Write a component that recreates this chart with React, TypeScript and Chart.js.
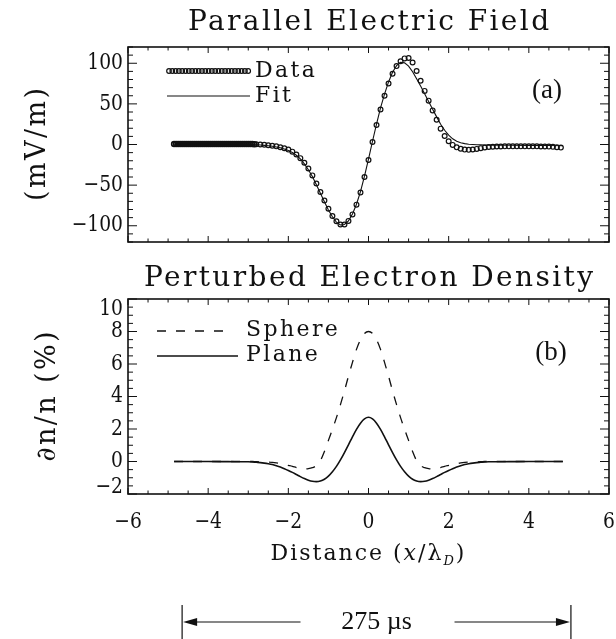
import React, { useEffect, useRef } from "react";
import { Chart, registerables } from "chart.js";

Chart.register(...registerables);

// ---------------- data: panel (a) Parallel Electric Field ----------------
const dataDenseX = [
  -4.85, -4.8, -4.75, -4.7, -4.65, -4.6, -4.55, -4.5, -4.45, -4.4, -4.35, -4.3, -4.25, -4.2,
  -4.15, -4.1, -4.05, -4.0, -3.95, -3.9, -3.85, -3.8, -3.75, -3.7, -3.65, -3.6, -3.55, -3.5,
  -3.45, -3.4, -3.35, -3.3, -3.25, -3.2, -3.15, -3.1, -3.05, -3.0, -2.95, -2.9, -2.85,
];
const dataDenseY = [
  0.6, 0.6, 0.6, 0.6, 0.6, 0.6, 0.6, 0.6, 0.6, 0.6, 0.6, 0.6, 0.6, 0.6,
  0.6, 0.6, 0.6, 0.6, 0.6, 0.6, 0.6, 0.6, 0.6, 0.6, 0.6, 0.6, 0.6, 0.6,
  0.6, 0.6, 0.6, 0.6, 0.6, 0.6, 0.6, 0.6, 0.6, 0.6, 0.55, 0.5, 0.4,
];
const dataX = [
  -2.8, -2.7, -2.6, -2.5, -2.4, -2.3, -2.2, -2.1, -2.0, -1.9, -1.8, -1.7, -1.6, -1.5, -1.4,
  -1.3, -1.2, -1.1, -1.0, -0.9, -0.8, -0.7, -0.6, -0.5, -0.4, -0.3, -0.2, -0.1, 0.0, 0.1,
  0.2, 0.3, 0.4, 0.5, 0.6, 0.7, 0.8, 0.9, 1.0, 1.1, 1.2, 1.3, 1.4, 1.5, 1.6, 1.7, 1.8,
  1.9, 2.0, 2.1, 2.2, 2.3, 2.4, 2.5, 2.6, 2.7, 2.8, 2.9, 3.0, 3.1, 3.2, 3.3, 3.4, 3.5,
  3.6, 3.7, 3.8, 3.9, 4.0, 4.1, 4.2, 4.3, 4.4, 4.5, 4.6, 4.7, 4.8,
];
const dataY = [
  0.3, 0.0, -0.4, -0.9, -1.5, -2.3, -3.3, -4.6, -6.3, -8.8, -12.3, -16.8, -22.5, -29.5, -38,
  -48, -58.5, -69, -79, -88, -94.5, -98.5, -98.5, -94, -86, -74, -59, -40, -19, 3,
  24, 43, 60, 75, 87, 96.5, 102.5, 106, 106.5, 101, 90.5, 78.5, 66, 54, 42, 30.5, 19.5,
  10.5, 4, -0.5, -3.5, -5.3, -6.3, -6.6, -6.2, -5.4, -4.5, -3.7, -3.1, -2.7, -2.5, -2.4, -2.3, -2.3,
  -2.3, -2.3, -2.3, -2.3, -2.3, -2.3, -2.3, -2.4, -2.4, -2.6, -2.9, -3.3, -3.8,
];
const fitX = [
  -4.85, -4.0, -3.5, -3.2, -3.0, -2.9, -2.8, -2.7, -2.6, -2.5, -2.4, -2.3, -2.2, -2.1, -2.0,
  -1.9, -1.8, -1.7, -1.6, -1.5, -1.4, -1.3, -1.2, -1.1, -1.0, -0.9, -0.8, -0.7, -0.6, -0.5,
  -0.4, -0.3, -0.2, -0.1, 0.0, 0.1, 0.2, 0.3, 0.4, 0.5, 0.6, 0.7, 0.8, 0.9, 1.0, 1.1, 1.2,
  1.3, 1.4, 1.5, 1.6, 1.7, 1.8, 1.9, 2.0, 2.1, 2.2, 2.3, 2.4, 2.5, 2.6, 2.7, 2.8, 2.9, 3.0,
  3.5, 4.0, 4.5, 4.85,
];
const fitY = [
  0.3, 0.3, 0.3, 0.2, 0.0, -0.2, -0.4, -0.7, -1.1, -1.6, -2.2, -3.0, -4.1, -5.5, -7.3,
  -9.8, -13.2, -17.8, -23.8, -31, -39.5, -49.5, -60, -70.5, -80.5, -89, -95.5, -99, -98.5, -94,
  -85.5, -73.5, -58, -39, -18, 4, 25, 45, 62, 77, 89, 97, 101, 100.5, 96.5, 89.5, 81,
  72, 62.5, 53, 43.5, 34, 25, 17.5, 11.5, 7, 4, 2.2, 1.1, 0.4, 0, -0.3, -0.5, -0.7, -0.8,
  -1.0, -1.1, -1.3, -1.5,
];

// ---------------- data: panel (b) Perturbed Electron Density ----------------
const densX = [
  -4.85, -4.0, -3.5, -3.0, -2.9, -2.8, -2.7, -2.6, -2.5, -2.4, -2.3, -2.2, -2.1, -2.0, -1.9,
  -1.8, -1.7, -1.6, -1.5, -1.4, -1.3, -1.2, -1.1, -1.0, -0.9, -0.8, -0.7, -0.6, -0.5, -0.4,
  -0.3, -0.2, -0.1, 0.0, 0.1, 0.2, 0.3, 0.4, 0.5, 0.6, 0.7, 0.8, 0.9, 1.0, 1.1, 1.2, 1.3,
  1.4, 1.5, 1.6, 1.7, 1.8, 1.9, 2.0, 2.1, 2.2, 2.3, 2.4, 2.5, 2.6, 2.7, 2.8, 2.9, 3.0, 3.5,
  4.0, 4.85,
];
const sphereY = [
  0, 0, 0, 0, 0, -0.01, -0.02, -0.03, -0.04, -0.06, -0.09, -0.13, -0.18, -0.24, -0.3,
  -0.37, -0.43, -0.46, -0.44, -0.38, -0.25, 0.05, 0.62, 1.3, 1.98, 2.7, 3.5, 4.35, 5.25, 6.1,
  6.9, 7.5, 7.88, 8.0, 7.88, 7.5, 6.9, 6.1, 5.25, 4.35, 3.5, 2.7, 1.98, 1.3, 0.62, 0.05, -0.25,
  -0.38, -0.44, -0.46, -0.43, -0.37, -0.3, -0.24, -0.18, -0.13, -0.09, -0.06, -0.04, -0.03, -0.02, -0.01, 0, 0, 0,
  0, 0,
];
const planeY = [
  0, 0, -0.01, -0.02, -0.03, -0.05, -0.07, -0.1, -0.14, -0.19, -0.26, -0.34, -0.44, -0.55, -0.67,
  -0.8, -0.93, -1.05, -1.15, -1.22, -1.24, -1.2, -1.09, -0.9, -0.63, -0.3, 0.1, 0.55, 1.03, 1.52,
  1.98, 2.36, 2.62, 2.72, 2.62, 2.36, 1.98, 1.52, 1.03, 0.55, 0.1, -0.3, -0.63, -0.9, -1.09, -1.2, -1.24,
  -1.22, -1.15, -1.05, -0.93, -0.8, -0.67, -0.55, -0.44, -0.34, -0.26, -0.19, -0.14, -0.1, -0.07, -0.05, -0.03, -0.02, -0.01,
  0, 0,
];

// ---------------- axes / labels ----------------
const xTickValues = [-6, -4, -2, 0, 2, 4, 6];
const xTickLabels = ["\u22126", "\u22124", "\u22122", "0", "2", "4", "6"];
const yTickValuesA = [-100, -50, 0, 50, 100];
const yTickLabelsA = ["\u2212100", "\u221250", "0", "50", "100"];
const yTickValuesB = [-2, 0, 2, 4, 6, 8, 10];
const yTickLabelsB = ["\u22122", "0", "2", "4", "6", "8", "10"];
const spanRange = [-4.65, 5.05];
const spanLabel = "275 \u00b5s";

const INK = "#111";
const SERIF = "'DejaVu Serif', serif";
const TIMES = "'Liberation Serif', 'Times New Roman', serif";
const TICK_FONT = "22px " + SERIF;

function pts(xs: number[], ys: number[]) {
  return xs.map((x, i) => ({ x, y: ys[i] }));
}

function text(ctx: any, s: string, x: number, y: number, font: string, align: string, baseline: string, ls = 0, sx = 1) {
  ctx.save();
  ctx.font = font;
  ctx.textAlign = align;
  ctx.textBaseline = baseline;
  ctx.letterSpacing = ls + "px";
  ctx.fillStyle = INK;
  ctx.translate(x + (align === "center" ? ls / 2 : 0), y);
  ctx.scale(sx, 1);
  ctx.fillText(s, 0, 0);
  ctx.restore();
}

function drawFrame(chart: any, yTicks: number[], xMinor: number, yMinor: number) {
  const { ctx, chartArea: a } = chart;
  const xs = chart.scales.x;
  const ys = chart.scales.y;
  ctx.save();
  ctx.strokeStyle = INK;
  ctx.lineWidth = 1;
  ctx.beginPath();
  for (let i = 0; ; i++) {
    const v = xs.min + i * xMinor;
    if (v > xs.max + 1e-9) break;
    const major = xTickValues.some((t) => Math.abs(t - v) < 1e-6);
    const len = major ? 6 : 3.5;
    const px = xs.getPixelForValue(v);
    ctx.moveTo(px, a.bottom);
    ctx.lineTo(px, a.bottom - len);
    ctx.moveTo(px, a.top);
    ctx.lineTo(px, a.top + len);
  }
  for (let i = 0; ; i++) {
    const v = ys.min + i * yMinor;
    if (v > ys.max + 1e-9) break;
    const major = yTicks.some((t) => Math.abs(t - v) < 1e-6);
    const len = major ? 9 : 5;
    const py = ys.getPixelForValue(v);
    ctx.moveTo(a.left, py);
    ctx.lineTo(a.left + len, py);
    ctx.moveTo(a.right, py);
    ctx.lineTo(a.right - len, py);
  }
  ctx.stroke();
  ctx.lineWidth = 1.6;
  ctx.strokeRect(a.left, a.top, a.right - a.left, a.bottom - a.top);
  ctx.restore();
}

function drawYLabels(chart: any, vals: number[], labels: string[]) {
  const { ctx, chartArea: a } = chart;
  const ys = chart.scales.y;
  vals.forEach((v, i) => {
    let py = ys.getPixelForValue(v);
    py = Math.min(Math.max(py, a.top + 10), a.bottom - 7);
    text(ctx, labels[i], a.left - 5, py, TICK_FONT, "right", "middle", 0, 0.85);
  });
}

function drawRotated(ctx: any, s: string, x: number, y: number, font: string, ls: number) {
  ctx.save();
  ctx.translate(x, y);
  ctx.rotate(-Math.PI / 2);
  text(ctx, s, 0, 0, font, "center", "middle", ls);
  ctx.restore();
}

const basePlugins = { legend: { display: false }, tooltip: { enabled: false } };

const panelA = {
  id: "panelA",
  afterDraw(chart: any) {
    const { ctx, chartArea: a } = chart;
    drawFrame(chart, yTickValuesA, 0.5, 10);
    drawYLabels(chart, yTickValuesA, yTickLabelsA);
    text(ctx, "Parallel Electric Field", (a.left + a.right) / 2, 30, "28px " + SERIF, "center", "alphabetic", 2.4);
    drawRotated(ctx, "(mV/m)", 38, (a.top + a.bottom) / 2, "27px " + SERIF, 2.4);
    // legend
    const ds0 = chart.data.datasets[1];
    ctx.save();
    ctx.strokeStyle = ds0.pointBorderColor;
    ctx.lineWidth = 1.2;
    for (let x = 169; x <= 249; x += 3.3) {
      ctx.beginPath();
      ctx.arc(x, 71, 2.3, 0, Math.PI * 2);
      ctx.stroke();
    }
    const ds1 = chart.data.datasets[0];
    ctx.strokeStyle = ds1.borderColor;
    ctx.lineWidth = ds1.borderWidth;
    ctx.beginPath();
    ctx.moveTo(167, 96);
    ctx.lineTo(250, 96);
    ctx.stroke();
    ctx.restore();
    text(ctx, ds0.label, 255, 76.5, "22px " + SERIF, "left", "alphabetic", 2.4);
    text(ctx, ds1.label, 255, 101.5, "22px " + SERIF, "left", "alphabetic", 2.4);
    text(ctx, "(a)", 547, 91, "27px " + TIMES, "center", "middle");
  },
};

const panelB = {
  id: "panelB",
  afterDraw(chart: any) {
    const { ctx, chartArea: a } = chart;
    const xs = chart.scales.x;
    drawFrame(chart, yTickValuesB, 0.5, 0.5);
    drawYLabels(chart, yTickValuesB, yTickLabelsB);
    xTickValues.forEach((v, i) => {
      text(ctx, xTickLabels[i], xs.getPixelForValue(v), a.bottom + 28, TICK_FONT, "center", "middle", 0, 0.85);
    });
    text(ctx, "Perturbed Electron Density", (a.left + a.right) / 2, 36, "28px " + SERIF, "center", "alphabetic", 2.4);
    drawRotated(ctx, "\u2202n/n (%)", 48, (a.top + a.bottom) / 2, "27px " + SERIF, 2.4);

    // x-axis title: Distance (x/λ_D)
    const parts: [string, string, number][] = [
      ["Distance (", "22px " + SERIF, 0],
      ["x", "italic 22px " + SERIF, 0],
      ["/\u03bb", "22px " + SERIF, 0],
      ["D", "italic 13px " + SERIF, 5],
      [")", "22px " + SERIF, 0],
    ];
    let total = 0;
    const widths = parts.map(([s, f]) => {
      ctx.font = f;
      ctx.letterSpacing = "2px";
      const w = ctx.measureText(s).width;
      ctx.letterSpacing = "0px";
      total += w;
      return w;
    });
    let cx = (a.left + a.right) / 2 - total / 2;
    parts.forEach(([s, f, dy], i) => {
      text(ctx, s, cx, a.bottom + 66 + dy, f, "left", "alphabetic", 2);
      cx += widths[i];
    });

    // legend
    const sph = chart.data.datasets[0];
    const pla = chart.data.datasets[1];
    ctx.save();
    ctx.strokeStyle = sph.borderColor;
    ctx.lineWidth = sph.borderWidth;
    ctx.setLineDash(sph.borderDash);
    ctx.beginPath();
    ctx.moveTo(157, 81);
    ctx.lineTo(232, 81);
    ctx.stroke();
    ctx.setLineDash([]);
    ctx.strokeStyle = pla.borderColor;
    ctx.lineWidth = pla.borderWidth;
    ctx.beginPath();
    ctx.moveTo(157, 106);
    ctx.lineTo(238, 106);
    ctx.stroke();
    ctx.restore();
    text(ctx, sph.label, 246, 86, "22px " + SERIF, "left", "alphabetic", 2.4);
    text(ctx, pla.label, 246, 111, "22px " + SERIF, "left", "alphabetic", 2.4);
    text(ctx, "(b)", 551, 103, "27px " + TIMES, "center", "middle");

    // time span annotation
    const x0 = xs.getPixelForValue(spanRange[0]);
    const x1 = xs.getPixelForValue(spanRange[1]);
    const mid = (x0 + x1) / 2;
    const yl = 372;
    ctx.save();
    ctx.strokeStyle = INK;
    ctx.fillStyle = INK;
    ctx.lineWidth = 1.2;
    ctx.beginPath();
    ctx.moveTo(x0, 355);
    ctx.lineTo(x0, 389);
    ctx.moveTo(x1, 355);
    ctx.lineTo(x1, 389);
    ctx.moveTo(x0 + 10, yl);
    ctx.lineTo(mid - 76, yl);
    ctx.moveTo(mid + 78, yl);
    ctx.lineTo(x1 - 10, yl);
    ctx.stroke();
    ctx.beginPath();
    ctx.moveTo(x0 + 1, yl);
    ctx.lineTo(x0 + 15, yl - 4);
    ctx.lineTo(x0 + 15, yl + 4);
    ctx.closePath();
    ctx.fill();
    ctx.beginPath();
    ctx.moveTo(x1 - 1, yl);
    ctx.lineTo(x1 - 15, yl - 4);
    ctx.lineTo(x1 - 15, yl + 4);
    ctx.closePath();
    ctx.fill();
    ctx.restore();
    text(ctx, spanLabel, mid, yl, "26px " + TIMES, "center", "middle");
  },
};

export default function App() {
  const refA = useRef<HTMLCanvasElement>(null);
  const refB = useRef<HTMLCanvasElement>(null);

  useEffect(() => {
    const nDense = dataDenseX.length;
    const chartA = new Chart(refA.current!, {
      type: "scatter",
      data: {
        datasets: [
          {
            label: "Fit",
            data: pts(fitX, fitY),
            showLine: true,
            borderColor: INK,
            borderWidth: 1.1,
            pointRadius: 0,
            tension: 0,
          },
          {
            label: "Data",
            data: [...pts(dataDenseX, dataDenseY), ...pts(dataX, dataY)],
            showLine: false,
            pointStyle: "circle",
            pointRadius: 2.4,
            pointBorderWidth: (c: any) => (c.dataIndex < nDense ? 1.7 : 1.2),
            pointBorderColor: INK,
            pointBackgroundColor: "rgba(255,255,255,0)",
          },
        ],
      } as any,
      options: {
        animation: false,
        responsive: false,
        events: [],
        devicePixelRatio: 1,
        layout: { padding: { left: 128, right: 7, top: 47, bottom: 8 } },
        plugins: basePlugins as any,
        scales: {
          x: { type: "linear", min: -6, max: 6, display: false },
          y: { type: "linear", min: -120, max: 120, display: false },
        },
      },
      plugins: [panelA as any],
    });

    const chartB = new Chart(refB.current!, {
      type: "scatter",
      data: {
        datasets: [
          {
            label: "Sphere",
            data: pts(densX, sphereY),
            showLine: true,
            borderColor: INK,
            borderWidth: 1.3,
            borderDash: [9, 10],
            pointRadius: 0,
            cubicInterpolationMode: "monotone",
          },
          {
            label: "Plane",
            data: pts(densX, planeY),
            showLine: true,
            borderColor: INK,
            borderWidth: 1.6,
            pointRadius: 0,
            cubicInterpolationMode: "monotone",
          },
        ],
      } as any,
      options: {
        animation: false,
        responsive: false,
        events: [],
        devicePixelRatio: 1,
        layout: { padding: { left: 128, right: 7, top: 49, bottom: 145 } },
        plugins: basePlugins as any,
        scales: {
          x: { type: "linear", min: -6, max: 6, display: false },
          y: { type: "linear", min: -2, max: 10, display: false },
        },
      },
      plugins: [panelB as any],
    });

    return () => {
      chartA.destroy();
      chartB.destroy();
    };
  }, []);

  return (
    <div style={{ position: "absolute", left: 0, top: 0, width: 616, height: 639, background: "#fff" }}>
      <canvas ref={refA} width={616} height={250} style={{ position: "absolute", left: 0, top: 0, width: 616, height: 250 }} />
      <canvas ref={refB} width={616} height={389} style={{ position: "absolute", left: 0, top: 250, width: 616, height: 389 }} />
    </div>
  );
}
